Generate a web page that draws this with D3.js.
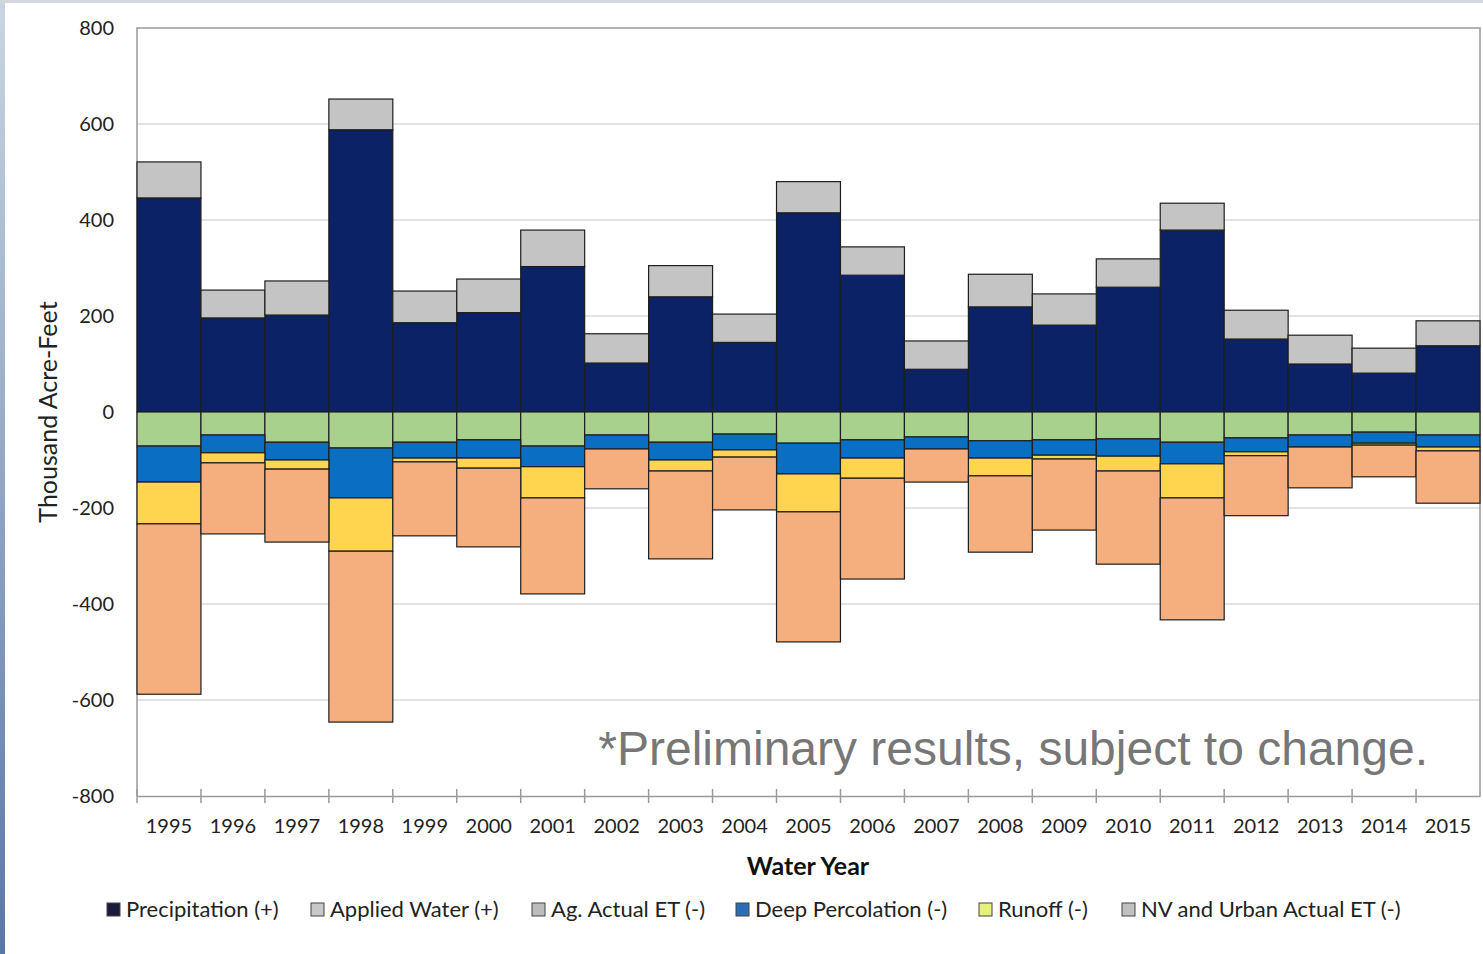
<!DOCTYPE html>
<html lang="en">
<head>
	<meta charset="utf-8">
	<title>Water Budget by Water Year</title>
	<script src="https://cdn.jsdelivr.net/npm/d3@7"></script>
	<style type="text/css">
		body { margin: 0; background: #fff; }
		svg { display: block; }
	</style>
</head>
<body>
<script type="text/javascript">
	// values, thousand acre-feet
	var years = ["1995","1996","1997","1998","1999","2000","2001","2002","2003","2004","2005",
		"2006","2007","2008","2009","2010","2011","2012","2013","2014","2015"];
	var precipitation = [446,196,202,588,186,207,303,102,240,145,415,285,89,219,181,260,379,152,100,81,138];
	var appliedWater  = [75,58,71,64,66,70,76,61,65,59,65,59,59,68,65,59,56,60,60,52,52];
	var agET          = [-71,-48,-63,-75,-63,-58,-71,-48,-63,-46,-65,-58,-52,-60,-58,-56,-63,-54,-48,-42,-48];
	var deepPerc      = [-75,-37,-37,-104,-33,-38,-43,-29,-37,-33,-64,-38,-25,-36,-32,-36,-45,-29,-25,-23,-25];
	var runoff        = [-87,-21,-19,-111,-8,-21,-65,0,-23,-15,-79,-42,0,-37,-8,-31,-71,-8,0,-4,-8];
	var nvUrbanET     = [-355,-148,-152,-356,-154,-164,-200,-83,-183,-110,-271,-210,-69,-159,-148,-194,-254,-125,-85,-66,-109];
	var yTicks = [-800,-600,-400,-200,0,200,400,600,800];

	var keys = ["precip","applied","agET","deep","runoff","nv"];
	var fills = {precip:"#0b2266", applied:"#c4c4c4", agET:"#a9d18e", deep:"#0a6fc2", runoff:"#ffd54f", nv:"#f5ae7e"};
	// legend swatches look like this in the picture
	var legend = [
		["Precipitation (+)", "#1b1b3d"],
		["Applied Water (+)", "#c8c8c8"],
		["Ag. Actual ET (-)", "#bcbcbc"],
		["Deep Percolation (-)", "#2a6db5"],
		["Runoff (-)", "#e6f07c"],
		["NV and Urban Actual ET (-)", "#c0c0c0"]
	];

	var rows = years.map(function(y, i){
		return {year:y, precip:precipitation[i], applied:appliedWater[i], agET:agET[i],
			deep:deepPerc[i], runoff:runoff[i], nv:nvUrbanET[i]};
	});

	var w = 1483, h = 954;
	var pL = 137, pR = 1480, pT = 28, pB = 796; // plot area
	var font = "Lato, 'Open Sans', sans-serif";

	var svg = d3.select("body").append("svg")
		.attr("width", w)
		.attr("height", h);

	// slide edge showing at the left
	var grad = svg.append("defs").append("linearGradient")
		.attr("id","edge").attr("x1",0).attr("y1",0).attr("x2",0).attr("y2",1);
	grad.append("stop").attr("offset","0%").attr("stop-color","#c9d6e2");
	grad.append("stop").attr("offset","100%").attr("stop-color","#5a78a6");
	svg.append("rect").attr("x",0).attr("y",0).attr("width",5).attr("height",h).attr("fill","url(#edge)");
	svg.append("rect").attr("x",0).attr("y",0).attr("width",w).attr("height",3).attr("fill","#d3d8de");

	var x = d3.scaleBand().domain(years).range([pL, pR]).padding(0);
	var y = d3.scaleLinear().domain([-800, 800]).range([pB, pT]);

	// gridlines
	svg.append("g").selectAll("line")
		.data(yTicks.filter(function(d){ return d > -800 && d < 800; }))
		.enter().append("line")
		.attr("x1", pL).attr("x2", pR)
		.attr("y1", function(d){ return y(d); })
		.attr("y2", function(d){ return y(d); })
		.attr("stroke", "#d9d9d9")
		.attr("stroke-width", 1.5);

	// frame top / left / right
	svg.append("path")
		.attr("d", "M" + pL + "," + pB + "V" + pT + "H" + pR + "V" + pB)
		.attr("fill", "none")
		.attr("stroke", "#9a9a9a")
		.attr("stroke-width", 1.5);

	var series = d3.stack().keys(keys).offset(d3.stackOffsetDiverging)(rows);

	svg.append("g").selectAll("g")
		.data(series)
		.enter().append("g")
		.attr("fill", function(s){ return fills[s.key]; })
		.selectAll("rect")
		.data(function(s){ return s; })
		.enter().append("rect")
		.attr("x", function(d){ return x(d.data.year); })
		.attr("width", x.bandwidth())
		.attr("y", function(d){ return y(Math.max(d[0], d[1])); })
		.attr("height", function(d){ return Math.abs(y(d[0]) - y(d[1])); })
		.attr("stroke", "#1e1e1e")
		.attr("stroke-width", function(d){ return d[0] === d[1] ? 0 : 1.2; });

	// y axis labels
	var yAxis = svg.append("g")
		.attr("transform", "translate(" + pL + ",0)")
		.call(d3.axisLeft(y).tickValues(yTicks).tickSize(0).tickPadding(23).tickFormat(function(d){ return d; }));
	yAxis.select(".domain").remove();
	yAxis.selectAll("text")
		.attr("font-family", font)
		.attr("font-size", "20px")
		.attr("fill", "#222");

	// x axis line, ticks between the bars, labels
	var xAxis = svg.append("g")
		.attr("transform", "translate(0," + pB + ")")
		.call(d3.axisBottom(x).tickSize(0).tickPadding(23));
	xAxis.select(".domain").attr("stroke", "#9a9a9a").attr("stroke-width", 1.5);
	xAxis.selectAll("text")
		.attr("font-family", font)
		.attr("font-size", "20px")
		.attr("fill", "#222");
	svg.append("g").selectAll("line")
		.data(years)
		.enter().append("line")
		.attr("x1", function(d){ return x(d); })
		.attr("x2", function(d){ return x(d); })
		.attr("y1", pB - 7)
		.attr("y2", pB + 7)
		.attr("stroke", "#9a9a9a")
		.attr("stroke-width", 1.5);

	// axis titles
	svg.append("text")
		.attr("transform", "translate(57,412) rotate(-90)")
		.attr("text-anchor", "middle")
		.attr("font-family", font)
		.attr("font-size", "25px")
		.attr("fill", "#222")
		.text("Thousand Acre-Feet");

	svg.append("text")
		.attr("x", 808)
		.attr("y", 875)
		.attr("text-anchor", "middle")
		.attr("font-family", font)
		.attr("font-weight", "bold")
		.attr("font-size", "25px")
		.attr("fill", "#111")
		.text("Water Year");

	// note
	svg.append("text")
		.attr("x", 1428)
		.attr("y", 765)
		.attr("text-anchor", "end")
		.attr("font-family", "'Liberation Sans', Arial, sans-serif")
		.attr("font-size", "48px")
		.attr("fill", "#777")
		.text("*Preliminary results, subject to change.");

	// legend
	var lx = [107, 311, 532, 736, 979, 1122];
	var lg = svg.append("g").selectAll("g")
		.data(legend)
		.enter().append("g")
		.attr("transform", function(d, i){ return "translate(" + lx[i] + ",903)"; });
	lg.append("rect")
		.attr("width", 13).attr("height", 13)
		.attr("fill", function(d){ return d[1]; })
		.attr("stroke", "#444")
		.attr("stroke-width", 1);
	lg.append("text")
		.attr("x", 19)
		.attr("y", 14)
		.attr("font-family", font)
		.attr("font-size", "22px")
		.attr("fill", "#222")
		.text(function(d){ return d[0]; });
</script>
</body>
</html>
